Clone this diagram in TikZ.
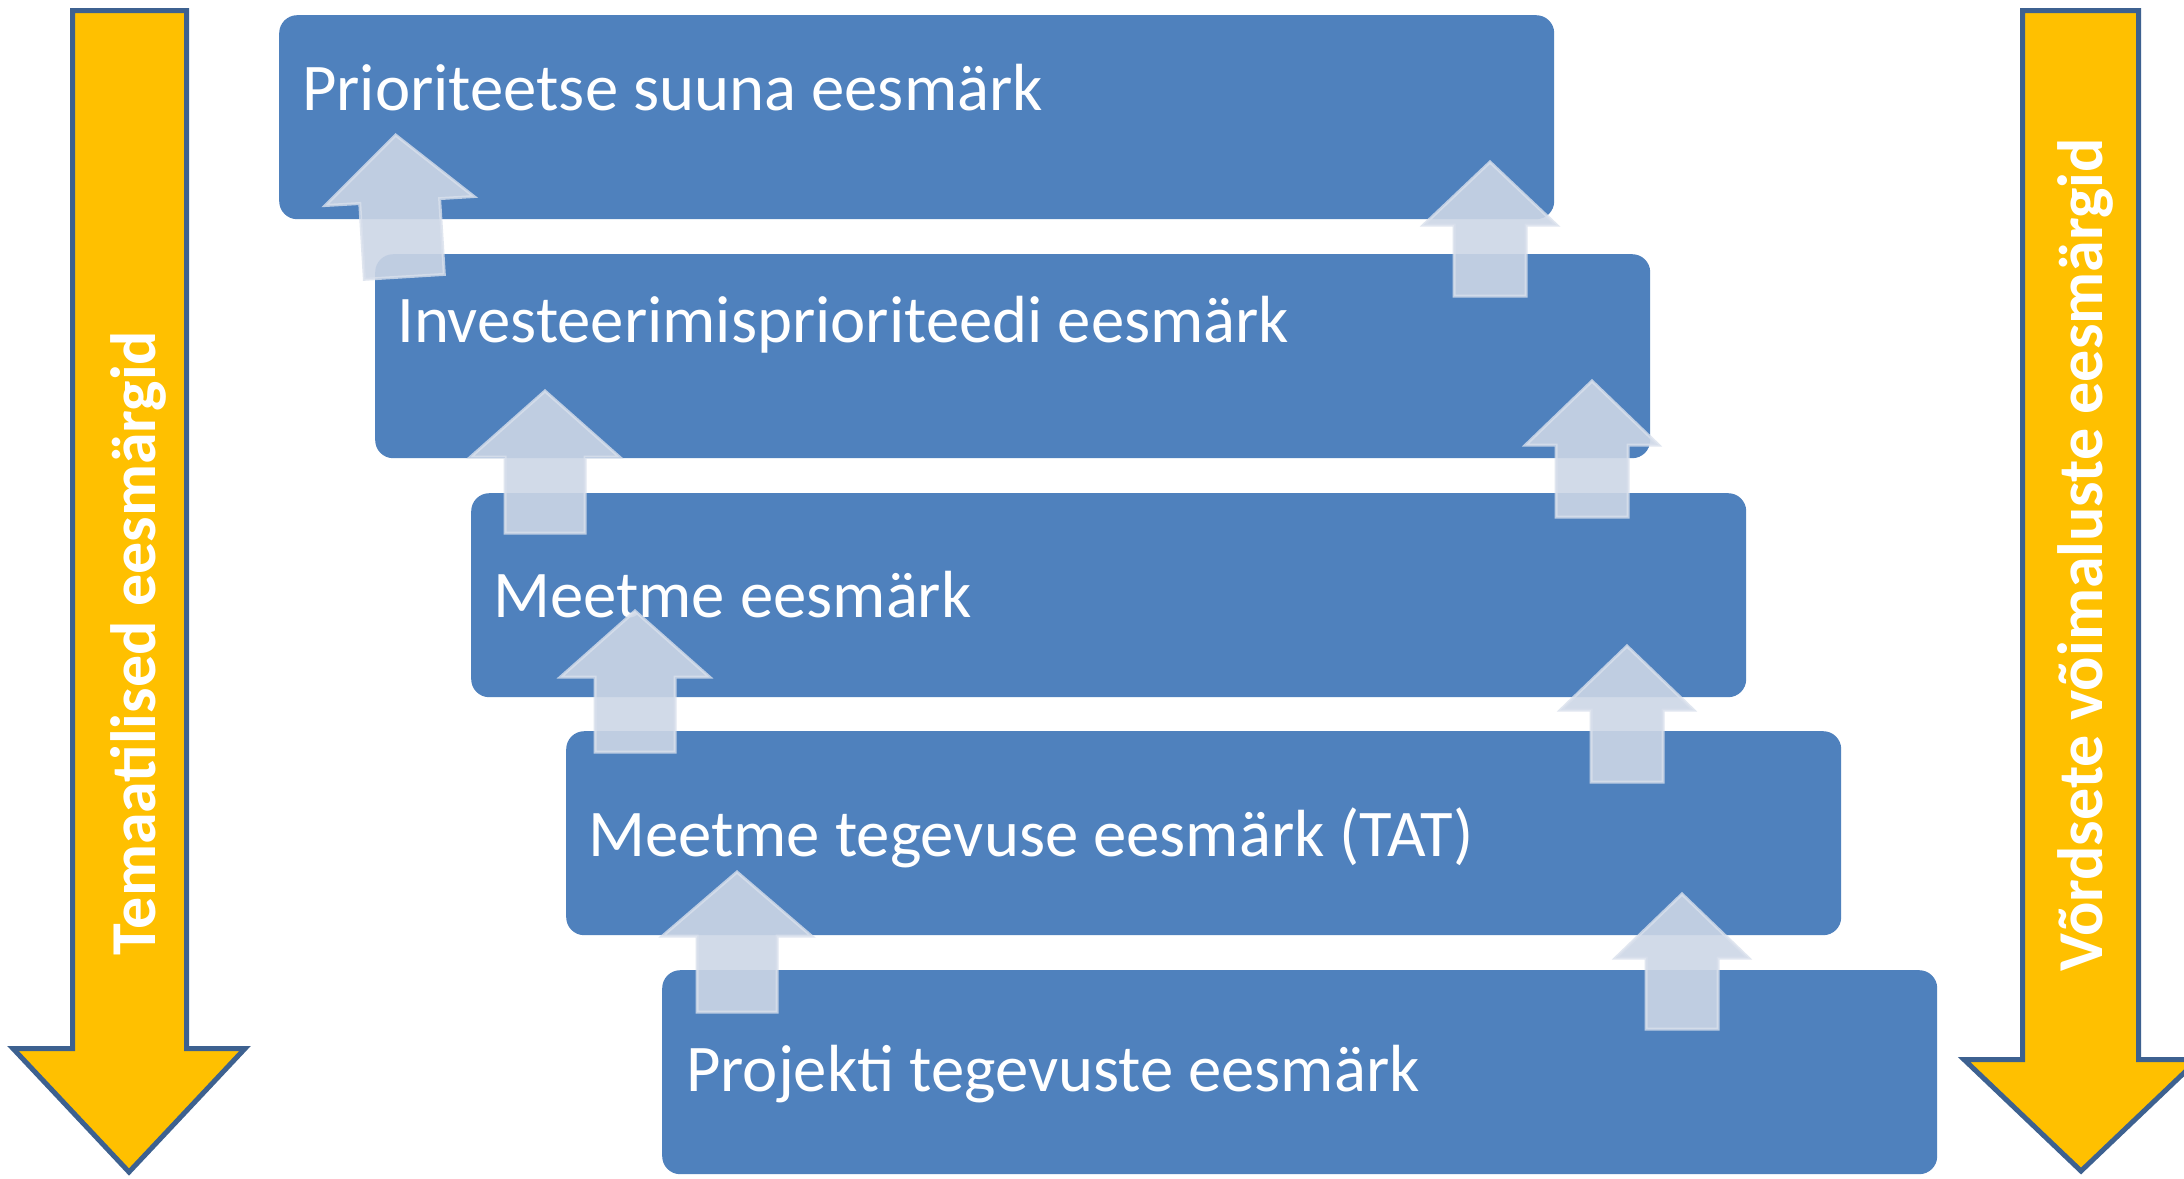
\documentclass[tikz,border=0pt]{standalone}
\usepackage{fontspec}
\setmainfont{Carlito}
\definecolor{boxblue}{HTML}{4F81BD}
\definecolor{goldfill}{HTML}{FFC000}
\definecolor{goldline}{HTML}{3D6190}
\definecolor{upfill}{HTML}{CCD6E6}
\definecolor{upline}{HTML}{D9E0EC}
\tikzset{
 stepbox/.style={fill=boxblue, rounded corners=18pt, draw=none, minimum width=1275pt, minimum height=204pt, anchor=north west, inner sep=0pt},
 boxtext/.style={anchor=base west, inner sep=0pt, text=white, font=\fontsize{66.7}{80}\selectfont},
 bigarrow/.style={fill=goldfill, draw=goldline, line width=5pt, line join=miter},
 sidetext/.style={rotate=90, anchor=base, inner sep=0pt, text=white, font=\bfseries\fontsize{64}{77}\selectfont},
 uparr/.style={fill=upfill, fill opacity=0.9, draw=upline, draw opacity=0.8, line width=3pt, line join=miter}
}
\newcommand\UpArr[6]{\draw[uparr] (#1,#2) -- ({#1+#3},{#2+#5}) -- ({#1+#4},{#2+#5}) -- ({#1+#4},{#2+#6}) -- ({#1-#4},{#2+#6}) -- ({#1-#4},{#2+#5}) -- ({#1-#3},{#2+#5}) -- cycle;}
\begin{document}
\begin{tikzpicture}[x=1pt,y=-1pt]
\clip (0,0) rectangle (2184,1178);
\fill[white] (0,0) rectangle (2184,1178);
% big side arrows
\draw[bigarrow] (72.5,10.5) -- (186.5,10.5) -- (186.5,1048.5) -- (245,1048.5) -- (129,1172) -- (13,1048.5) -- (72.5,1048.5) -- cycle;
\draw[bigarrow] (2022.5,10.5) -- (2138.5,10.5) -- (2138.5,1059.5) -- (2198,1059.5) -- (2081,1171) -- (1964,1059.5) -- (2022.5,1059.5) -- cycle;
\node[sidetext] (lt) at (155,643) {Temaatilised eesmärgid};
\node[sidetext] (rt) at (2102,555) {Võrdsete võimaluste eesmärgid};
% step boxes
\node[stepbox] (b1) at (279,15) {};
\node[stepbox] (b2) at (375,254) {};
\node[stepbox] (b3) at (471,493) {};
\node[stepbox] (b4) at (566,731) {};
\node[stepbox] (b5) at (662,970) {};
\node[boxtext] (t1) at (302,110) {Prioriteetse suuna eesmärk};
\node[boxtext] (t2) at (397,342) {Investeerimisprioriteedi eesmärk};
\node[boxtext] (t3) at (493,617) {Meetme eesmärk};
\node[boxtext] (t4) at (588,856) {Meetme tegevuse eesmärk (TAT)};
\node[boxtext] (t5) at (686,1091) {Projekti tegevuste eesmärk};
% small up arrows, left column
\draw[uparr] (395.7,135.1) -- (474,196.5) -- (439.6,198.6) -- (444.3,274.4) -- (364.4,279.3) -- (359.8,203.5) -- (325.3,205.5) -- cycle;
\UpArr{545}{391}{74.5}{40}{66}{142}
\UpArr{635}{611}{74.5}{40}{66}{141}
\UpArr{737}{872}{74.5}{40}{64}{140}
% small up arrows, right column
\UpArr{1490}{162}{66.5}{36}{63}{134}
\UpArr{1592}{381}{66.5}{36}{64}{136}
\UpArr{1627}{646}{66.5}{36}{64}{136}
\UpArr{1682}{894}{66.5}{36}{64}{135}
\end{tikzpicture}
\end{document}
